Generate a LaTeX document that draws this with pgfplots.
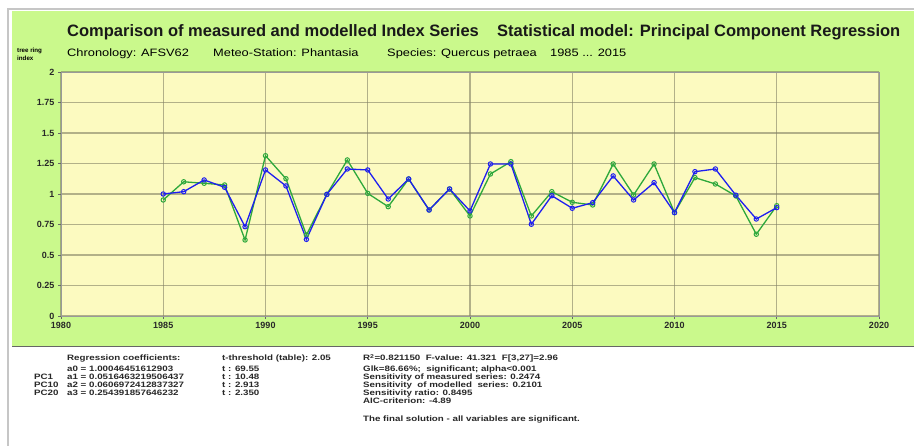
\documentclass[border=0pt]{standalone}
\usepackage{pgfplots}
\pgfplotsset{compat=1.18}
\usepackage{fontspec}
\setmainfont{Liberation Sans}
\newfontfamily\widefont[FakeStretch=1.25]{Liberation Sans}
\newfontfamily\subfont[FakeStretch=1.2]{Liberation Sans}
\definecolor{panelgreen}{RGB}{202,249,140}
\definecolor{plotyellow}{RGB}{252,250,192}
\definecolor{measgreen}{RGB}{46,168,60}
\definecolor{modblue}{RGB}{30,30,240}
\definecolor{gridgray}{RGB}{130,128,100}
\definecolor{textgray}{RGB}{40,40,40}

\pgfplotstableread{
year meas mod
1985 0.951 1.000
1986 1.100 1.019
1987 1.088 1.115
1988 1.074 1.055
1989 0.623 0.732
1990 1.314 1.197
1991 1.125 1.066
1992 0.664 0.628
1993 0.997 0.997
1994 1.279 1.205
1995 1.005 1.197
1996 0.896 0.959
1997 1.123 1.123
1998 0.869 0.869
1999 1.041 1.041
2000 0.820 0.861
2001 1.164 1.246
2002 1.265 1.246
2003 0.820 0.752
2004 1.019 0.986
2005 0.932 0.883
2006 0.910 0.929
2007 1.246 1.148
2008 0.992 0.951
2009 1.246 1.093
2010 0.847 0.847
2011 1.134 1.183
2012 1.082 1.205
2013 0.984 0.990
2014 0.670 0.795
2015 0.904 0.888
}\datatable

\begin{document}
\begin{tikzpicture}[x=1pt,y=1pt]
\path[use as bounding box] (0,0) rectangle (914,446);
\fill[white] (0,0) rectangle (914,446);
\fill[panelgreen] (12,100) rectangle (914,435);
\draw[gray!45, line width=1.5] (8,0) -- (8,437) -- (914,437);
\draw[gray!80!black, line width=0.8] (12,100) -- (914,100);

% titles
\node[anchor=base west, inner sep=0, font=\bfseries\fontsize{16.5}{17}\selectfont, text=black!90] at (67,409) {Comparison of measured and modelled Index Series};
\node[anchor=base west, inner sep=0, font=\bfseries\fontsize{16.5}{17}\selectfont, text=black!90] at (497,409) {Statistical model: Principal Component Regression};
\node[anchor=base west, inner sep=0, font=\subfont\fontsize{10.7}{12}\selectfont] at (67,389) {Chronology: AFSV62};
\node[anchor=base west, inner sep=0, font=\subfont\fontsize{10.7}{12}\selectfont] at (213,389) {Meteo-Station: Phantasia};
\node[anchor=base west, inner sep=0, font=\subfont\fontsize{10.7}{12}\selectfont] at (387,389) {Species: Quercus petraea};
\node[anchor=base west, inner sep=0, font=\subfont\fontsize{10.7}{12}\selectfont] at (550,389) {1985 ... 2015};
\node[anchor=base west, inner sep=0, font=\bfseries\fontsize{6.2}{7}\selectfont] at (17,393) {tree ring};
\node[anchor=base west, inner sep=0, font=\bfseries\fontsize{6.2}{7}\selectfont] at (17,385) {index};

\begin{axis}[
  at={(61pt,130pt)}, anchor=south west,
  scale only axis, width=818pt, height=244pt,
  xmin=1980, xmax=2020, ymin=0, ymax=2,
  xtick={1980,1985,1990,1995,2000,2005,2010,2015,2020},
  xticklabels={1980,1985,1990,1995,2000,2005,2010,2015,2020},
  ytick={0,0.25,0.5,0.75,1,1.25,1.5,1.75,2},
  yticklabels={0,0.25,0.5,0.75,1,1.25,1.5,1.75,2},
  tick label style={font=\bfseries\fontsize{9}{10}\selectfont, text=textgray},
  axis background/.style={fill=plotyellow},
  grid=major,
  major grid style={gridgray, line width=1.4pt, opacity=0.6},
  axis line style={gray!80, line width=0.8pt},
  tick pos=left, tick align=outside,
  major tick length=3pt,
  tick style={gray!80!black, line width=0.6pt},
  clip=false,
]
\addplot[measgreen, line width=1.3pt, mark=o, mark size=2.2pt, mark options={line width=1pt}] table[x=year, y=meas] {\datatable};
\addplot[modblue, line width=1.3pt, mark=o, mark size=2.2pt, mark options={line width=1pt}] table[x=year, y=mod] {\datatable};
\end{axis}

% bottom text panel
\begin{scope}[every node/.style={anchor=base west, inner sep=0, font=\widefont\bfseries\fontsize{7.8}{8}\selectfont, text=textgray}]
\node at (67,85) {Regression coefficients:};
\node at (67,74) {a0 = 1.00046451612903};
\node at (34,66) {PC1};
\node at (67,66) {a1 = 0.0516463219506437};
\node at (34,58) {PC10};
\node at (67,58) {a2 = 0.0606972412837327};
\node at (34,50) {PC20};
\node at (67,50) {a3 = 0.254391857646232};
\node at (222,85) {t-threshold (table): 2.05};
\node at (222,74) {t : 69.55};
\node at (222,66) {t : 10.48};
\node at (222,58) {t : 2.913};
\node at (222,50) {t : 2.350};
\node at (363,85) {R\textsuperscript{2}=0.821150\ \ F-value: 41.321\ \ F[3,27]=2.96};
\node at (363,74) {Glk=86.66\%;\ \ significant;\ alpha<0.001};
\node at (363,66) {Sensitivity of measured series: 0.2474};
\node at (363,58) {Sensitivity\ \ of modelled\ \ series: 0.2101};
\node at (363,50) {Sensitivity ratio: 0.8495};
\node at (363,42) {AIC-criterion: -4.89};
\node at (363,24) {The final solution - all variables are significant.};
\end{scope}
\end{tikzpicture}
\end{document}
